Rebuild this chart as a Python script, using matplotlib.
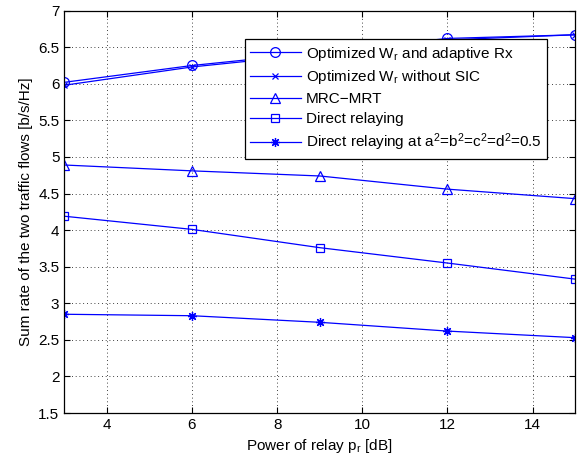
import matplotlib
matplotlib.use("Agg")
import matplotlib.pyplot as plt

plt.rcParams["font.family"] = ["Liberation Sans", "DejaVu Sans"]
plt.rcParams["mathtext.fontset"] = "custom"
plt.rcParams["mathtext.rm"] = "Liberation Sans"
plt.rcParams["mathtext.it"] = "Liberation Sans"

power_db = [3, 6, 9, 12, 15]
opt_adaptive = [6.02, 6.25, 6.43, 6.62, 6.67]
opt_no_sic = [5.98, 6.23, 6.41, 6.60, 6.67]
mrc_mrt = [4.89, 4.81, 4.74, 4.56, 4.43]
direct = [4.19, 4.01, 3.76, 3.55, 3.33]
direct_half = [2.85, 2.83, 2.74, 2.62, 2.53]

# (values, marker, marker size, label)
series = [
    (opt_adaptive, "o", 7, r"Optimized W$_\mathrm{r}$ and adaptive Rx"),
    (opt_no_sic, "x", 5, r"Optimized W$_\mathrm{r}$ without SIC"),
    (mrc_mrt, "^", 7.5, "MRC\u2212MRT"),
    (direct, "s", 5.5, "Direct relaying"),
    (direct_half, (8, 2, 0), 6.5, r"Direct relaying at a$^2$=b$^2$=c$^2$=d$^2$=0.5"),
]

fig = plt.figure(figsize=(5.84, 4.62), dpi=100)
ax = fig.add_axes([0.11, 0.106, 0.875, 0.871])

for values, marker, size, label in series:
    ax.plot(power_db, values, color="blue", linewidth=0.9, marker=marker,
            markersize=size, markerfacecolor="none", markeredgecolor="blue",
            markeredgewidth=0.9, label=label)

ax.set_xlim(3, 15)
ax.set_ylim(1.5, 7)
ax.set_xticks([4, 6, 8, 10, 12, 14])
ax.set_yticks([1.5, 2, 2.5, 3, 3.5, 4, 4.5, 5, 5.5, 6, 6.5, 7])
ax.set_yticklabels(["1.5", "2", "2.5", "3", "3.5", "4", "4.5", "5", "5.5", "6", "6.5", "7"])
ax.grid(True, linestyle=(0, (1, 3.5)), color="black", linewidth=0.6)
ax.tick_params(direction="in", top=True, right=True, labelsize=11, length=4)
for spine in ax.spines.values():
    spine.set_linewidth(0.9)

ax.set_xlabel(r"Power of relay p$_\mathrm{r}$ [dB]", fontsize=11)
ax.set_ylabel("Sum rate of the two traffic flows [b/s/Hz]", fontsize=11)

leg = ax.legend(loc="upper right", bbox_to_anchor=(0.945, 0.929), fontsize=11,
                fancybox=False, framealpha=1, edgecolor="black",
                borderaxespad=0, handlelength=3.3, handletextpad=0.35,
                labelspacing=0.38, borderpad=0.35)
leg.get_frame().set_linewidth(0.9)

fig.savefig("out.png", dpi=100)
